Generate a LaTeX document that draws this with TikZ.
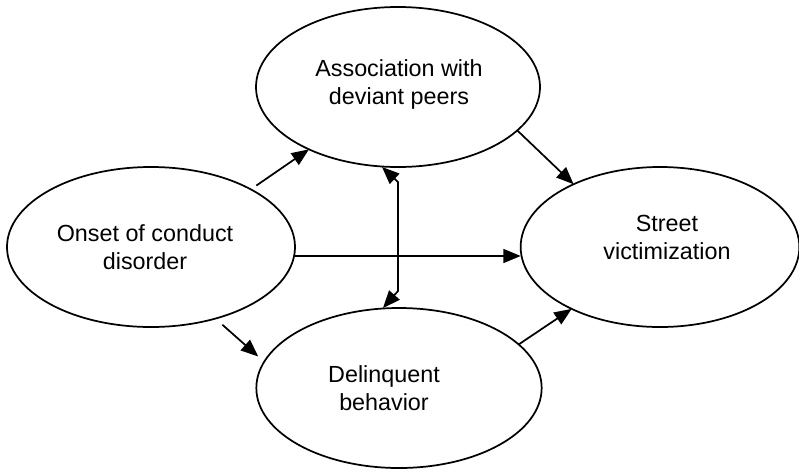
\documentclass[tikz,border=0pt]{standalone}
\usepackage{fontspec}
\setmainfont{Liberation Sans}
\usetikzlibrary{arrows.meta,shapes.geometric}
\begin{document}
\begin{tikzpicture}[x=0.75pt,y=-0.75pt,
  oval/.style={draw,ellipse,line width=1.3pt,inner sep=0pt,outer sep=0pt},
  lbl/.style={align=center,font=\fontsize{17.5}{21}\selectfont,inner sep=0pt},
  conn/.style={line width=1.3pt,-{Triangle[length=13pt,width=10.5pt]}},
  biconn/.style={line width=1.3pt,{Triangle[length=13pt,width=10.5pt]}-{Triangle[length=13pt,width=10.5pt]}}]
\useasboundingbox (0,0) rectangle (799,472);
\node[oval,minimum width=213pt,minimum height=120pt] (assoc) at (398,87) {};
\node[oval,minimum width=216pt,minimum height=120pt] (onset) at (151,247) {};
\node[oval,minimum width=209pt,minimum height=120pt] (street) at (660,247) {};
\node[oval,minimum width=214pt,minimum height=120pt] (delinq) at (399,388) {};
\node[lbl] (tassoc) at (399,84) {Association with\\deviant peers};
\node[lbl] (tonset) at (145,247) {Onset of conduct\\disorder};
\node[lbl] (tstreet) at (667,237) {Street\\victimization};
\node[lbl] (tdelinq) at (384,388) {Delinquent\\behavior};
\draw[conn,shorten <=5pt] (onset.30) -- (assoc.215);
\draw[conn] (assoc.-20) -- (street.144);
\draw[conn] ([yshift=-6.75pt]onset.east) -- ([yshift=-6.75pt]street.west);
\draw[conn,shorten <=7pt,shorten >=6pt] (onset.-48) -- (delinq.169);
\draw[conn] (delinq.20) -- (street.215);
\draw[biconn] ([xshift=-12pt]assoc.south) -- ++(16,15) -- ++(0,109) -- ([xshift=-12pt]delinq.north);
\end{tikzpicture}
\end{document}
